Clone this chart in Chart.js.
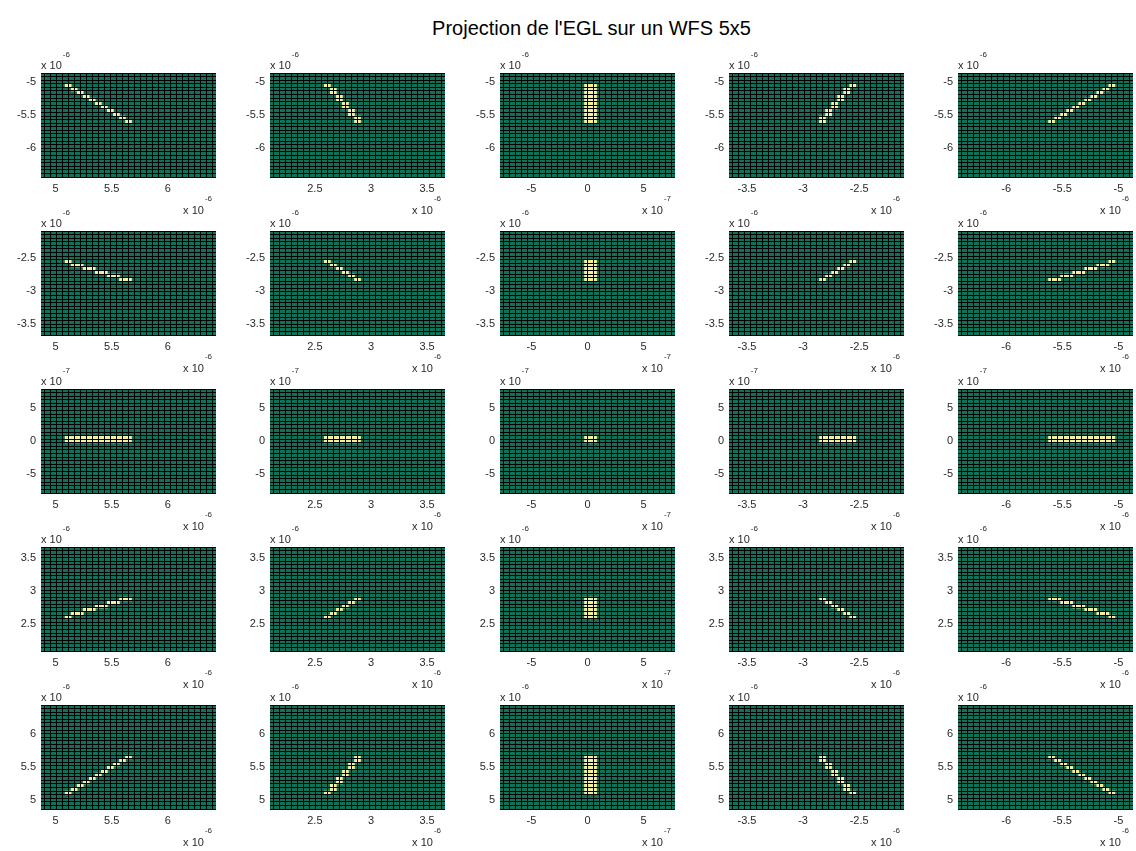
<!DOCTYPE html>
<html>
<head>
<meta charset="utf-8">
<script src="https://cdn.jsdelivr.net/npm/chart.js@4.4.0/dist/chart.umd.min.js"></script>
<style>
  body { margin:0; background:#fff; }
  #wrap { position:relative; width:1136px; height:851px; overflow:hidden; }
  #title { position:absolute; left:0; width:1183px; top:17px; text-align:center;
           font:20px "Liberation Sans", Arial, sans-serif; color:#000; white-space:nowrap; }
  canvas { position:absolute; }
</style>
</head>
<body>
<div id="wrap"><div id="title">Projection de l'EGL sur un WFS 5x5</div></div>
<script>
// axis ranges (x 10^-6 m) for each column / row of sub-apertures
const colRanges = [[4.87,6.43],[2.10,3.66],[-0.78,0.78],[-3.66,-2.10],[-6.43,-4.87]];
const rowRanges = [[-6.43,-4.87],[-3.66,-2.10],[-0.78,0.78],[2.10,3.66],[4.87,6.43]];
const colTicks = [[5,5.5,6],[2.5,3,3.5],[-0.5,0,0.5],[-3.5,-3,-2.5],[-6,-5.5,-5]];
const rowTicks = [[-6,-5.5,-5],[-3.5,-3,-2.5],[-0.5,0,0.5],[2.5,3,3.5],[5,5.5,6]];
const colExp = [-6,-6,-7,-6,-6];
const rowExp = [-6,-6,-7,-6,-6];
const nCells = 29;

// lit cells, one entry per column run: [col from left, first row from top, last row from top]
const row1Cells = [
  [[4,3,3],[5,4,4],[6,5,5],[7,6,6],[8,7,7],[9,8,8],[10,9,9],[11,10,10],[12,11,11],[13,12,12],[14,13,13]],
  [[9,3,3],[10,4,5],[11,6,7],[12,8,9],[13,10,11],[14,12,13]],
  [[14,3,13],[15,3,13]],
  [[15,12,13],[16,10,11],[17,8,9],[18,6,7],[19,4,5],[20,3,3]],
  [[15,13,13],[16,12,12],[17,11,11],[18,10,10],[19,9,9],[20,8,8],[21,7,7],[22,6,6],[23,5,5],[24,4,4],[25,3,3]]
];
const row2Cells = [
  [[4,8,8],[5,9,9],[6,9,9],[7,10,10],[8,10,10],[9,11,11],[10,11,11],[11,12,12],[12,12,12],[13,13,13],[14,13,13]],
  [[9,8,8],[10,9,9],[11,10,10],[12,11,11],[13,12,12],[14,13,13]],
  [[14,8,13],[15,8,13]],
  [[15,13,13],[16,12,12],[17,11,11],[18,10,10],[19,9,9],[20,8,8]],
  [[15,13,13],[16,13,13],[17,12,12],[18,12,12],[19,11,11],[20,11,11],[21,10,10],[22,10,10],[23,9,9],[24,9,9],[25,8,8]]
];
const row3Cells = [
  [[4,13,14],[5,13,14],[6,13,14],[7,13,14],[8,13,14],[9,13,14],[10,13,14],[11,13,14],[12,13,14],[13,13,14],[14,13,14]],
  [[9,13,14],[10,13,14],[11,13,14],[12,13,14],[13,13,14],[14,13,14]],
  [[14,13,14],[15,13,14]],
  [[15,13,14],[16,13,14],[17,13,14],[18,13,14],[19,13,14],[20,13,14]],
  [[15,13,14],[16,13,14],[17,13,14],[18,13,14],[19,13,14],[20,13,14],[21,13,14],[22,13,14],[23,13,14],[24,13,14],[25,13,14]]
];
const row4Cells = [
  [[4,19,19],[5,18,18],[6,18,18],[7,17,17],[8,17,17],[9,16,16],[10,16,16],[11,15,15],[12,15,15],[13,14,14],[14,14,14]],
  [[9,19,19],[10,18,18],[11,17,17],[12,16,16],[13,15,15],[14,14,14]],
  [[14,14,19],[15,14,19]],
  [[15,14,14],[16,15,15],[17,16,16],[18,17,17],[19,18,18],[20,19,19]],
  [[15,14,14],[16,14,14],[17,15,15],[18,15,15],[19,16,16],[20,16,16],[21,17,17],[22,17,17],[23,18,18],[24,18,18],[25,19,19]]
];
const row5Cells = [
  [[4,24,24],[5,23,23],[6,22,22],[7,21,21],[8,20,20],[9,19,19],[10,18,18],[11,17,17],[12,16,16],[13,15,15],[14,14,14]],
  [[9,24,24],[10,22,23],[11,20,21],[12,18,19],[13,16,17],[14,14,15]],
  [[14,14,24],[15,14,24]],
  [[15,14,15],[16,16,17],[17,18,19],[18,20,21],[19,22,23],[20,24,24]],
  [[15,14,14],[16,15,15],[17,16,16],[18,17,17],[19,18,18],[20,19,19],[21,20,20],[22,21,21],[23,22,22],[24,23,23],[25,24,24]]
];
const allRows = [row1Cells, row2Cells, row3Cells, row4Cells, row5Cells];

const GREEN = "rgb(18,112,88)";
const YELLOW = "#f5f0a0";
const TEXT = "#2a2a2a";
const FONT = '"Liberation Sans", Arial, sans-serif';

const plotLeft = [41, 270, 500, 729, 958];
const plotTop = [73, 231, 389, 547, 705];

const bgPlugin = {
  id: "bg",
  beforeDraw(chart){
    const { ctx, chartArea: a } = chart;
    ctx.save();
    ctx.fillStyle = GREEN;
    ctx.fillRect(a.left, a.top, a.right - a.left, a.bottom - a.top);
    ctx.restore();
  }
};

// "x 10^n" multipliers, MATLAB style
const expPlugin = {
  id: "exp",
  afterDraw(chart, args, opts){
    const { ctx, chartArea: a } = chart;
    ctx.save();
    ctx.fillStyle = TEXT;
    ctx.textBaseline = "alphabetic";
    ctx.textAlign = "left";
    ctx.font = "11px " + FONT;
    ctx.fillText("x 10", a.left, a.top - 4);
    const w = ctx.measureText("x 10").width;
    ctx.font = "8px " + FONT;
    ctx.fillText(String(opts.yExp), a.left + w + 1, a.top - 16);

    const ex = String(opts.xExp);
    const we = ctx.measureText(ex).width;
    ctx.fillText(ex, a.right - 4 - we, a.bottom + 24);
    ctx.font = "11px " + FONT;
    ctx.textAlign = "right";
    ctx.fillText("x 10", a.right - 5 - we, a.bottom + 37);
    ctx.restore();
  }
};

function fmt(v, exp){
  const f = Math.pow(10, -6 - exp);
  return String(Number((v * f).toFixed(2)));
}

function makePanel(cv, r, c){
  const [x0, x1] = colRanges[c];
  const [y0, y1] = rowRanges[r];
  const dx = (x1 - x0) / nCells, dy = (y1 - y0) / nCells;
  const runs = allRows[r][c];
  const data = runs.map(([col, t0, t1]) => ({
    x: x0 + (col + 0.5) * dx,
    y: [y1 - (t1 + 1) * dy, y1 - t0 * dy]
  }));
  const xb = [], yb = [];
  for(let i=0;i<=nCells;i++){ xb.push(x0 + i*dx); yb.push(y0 + i*dy); }

  const tickFont = { family: FONT, size: 11 };

  new Chart(cv, {
    type: "bar",
    data: { datasets: [{
      data, xAxisID: "x", yAxisID: "y",
      backgroundColor: YELLOW, borderWidth: 0,
      categoryPercentage: 1, barPercentage: 1
    }]},
    options: {
      responsive: false, animation: false, devicePixelRatio: 1,
      layout: { padding: { top: 30, right: 12, left: 0, bottom: 0 } },
      plugins: {
        legend: { display: false }, tooltip: { enabled: false },
        exp: { xExp: colExp[c], yExp: rowExp[r] }
      },
      scales: {
        x: {
          type: "linear", position: "bottom", weight: 1, min: x0, max: x1, offset: false,
          grid: { display: false, drawTicks: false, offset: false }, border: { display: false },
          ticks: { color: TEXT, font: tickFont, padding: 5, maxRotation: 0, autoSkip: false,
                   callback: v => fmt(v, colExp[c]) },
          afterBuildTicks: a => { a.ticks = colTicks[c].map(v => ({ value: v })); },
          afterFit: a => { a.height = 44; }
        },
        xg: {
          type: "linear", position: "bottom", weight: 0, min: x0, max: x1, offset: false,
          grid: { color: "#000", lineWidth: 1, drawTicks: false, z: 1 },
          border: { display: false },
          ticks: { display: false },
          afterBuildTicks: a => { a.ticks = xb.map(v => ({ value: v })); },
          afterFit: a => { a.height = 0; }
        },
        y: {
          type: "linear", position: "left", weight: 1, min: y0, max: y1, beginAtZero: false,
          grid: { display: false, drawTicks: false }, border: { display: false },
          ticks: { color: TEXT, font: tickFont, padding: 5, autoSkip: false,
                   callback: v => fmt(v, rowExp[r]) },
          afterBuildTicks: a => { a.ticks = rowTicks[r].map(v => ({ value: v })); },
          afterFit: a => { a.width = 41; }
        },
        yg: {
          type: "linear", position: "left", weight: 0, min: y0, max: y1,
          grid: { color: "#000", lineWidth: 1, drawTicks: false, z: 1 },
          border: { display: false },
          ticks: { display: false },
          afterBuildTicks: a => { a.ticks = yb.map(v => ({ value: v })); },
          afterFit: a => { a.width = 0; }
        }
      }
    },
    plugins: [bgPlugin, expPlugin]
  });
}

const wrap = document.getElementById("wrap");
for(let r=0;r<5;r++){
  for(let c=0;c<5;c++){
    const cv = document.createElement("canvas");
    cv.width = 228; cv.height = 178;
    cv.style.width = "228px"; cv.style.height = "178px";
    cv.style.left = (plotLeft[c] - 41) + "px";
    cv.style.top = (plotTop[r] - 30) + "px";
    wrap.appendChild(cv);
    makePanel(cv, r, c);
  }
}
</script>
</body>
</html>
